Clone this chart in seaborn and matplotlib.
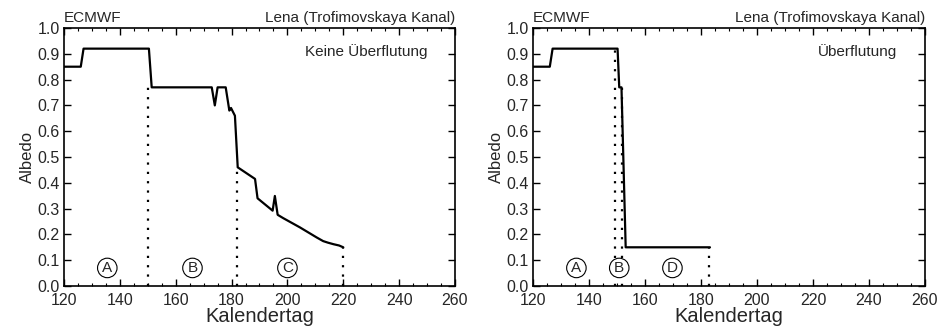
import matplotlib
matplotlib.use("Agg")
import matplotlib.pyplot as plt
from matplotlib.ticker import MultipleLocator, FormatStrFormatter
import seaborn as sns
import pandas as pd

sns.set_theme(style="ticks")
plt.rcParams["font.family"] = ["Liberation Sans", "DejaVu Sans"]

# Albedo, no flooding (Keine Überflutung)
day_dry = [120, 126, 127, 150.4, 151.4, 172.9, 174.0, 175.0, 177.9, 179.2, 179.8,
           181.2, 182.2, 188.4, 189.3, 194.7, 195.5, 196.5, 198.5, 200.5, 202.5,
           204.5, 206.5, 208.5, 210.5, 212.8, 214.5, 216.5, 218.5, 220.0]
alb_dry = [0.85, 0.85, 0.92, 0.92, 0.77, 0.77, 0.70, 0.77, 0.77, 0.68, 0.69,
           0.66, 0.46, 0.415, 0.34, 0.292, 0.349, 0.276, 0.263, 0.251, 0.239,
           0.227, 0.214, 0.201, 0.188, 0.174, 0.168, 0.162, 0.157, 0.15]

# Albedo, flooding (Überflutung)
day_wet = [120, 126, 127, 150.2, 150.8, 151.6, 153.1, 183.2]
alb_wet = [0.85, 0.85, 0.92, 0.92, 0.77, 0.77, 0.15, 0.15]

# Phase boundaries (dotted) and phase labels
bounds_dry = [(150.0, 0.77), (182.0, 0.46), (220.0, 0.15)]
bounds_wet = [(149.3, 0.92), (151.9, 0.77), (183.0, 0.15)]
phases_dry = [("A", 135.5), ("B", 166.0), ("C", 200.0)]
phases_wet = [("A", 135.5), ("B", 150.8), ("D", 169.8)]

panels = [
    (day_dry, alb_dry, bounds_dry, phases_dry, "Keine Überflutung"),
    (day_wet, alb_wet, bounds_wet, phases_wet, "Überflutung"),
]

fig = plt.figure(figsize=(9.41, 3.33), dpi=100)
axes = [fig.add_axes([64 / 941, 47 / 333, 391 / 941, 258 / 333]),
        fig.add_axes([533 / 941, 47 / 333, 392 / 941, 258 / 333])]

for ax, (days, alb, bounds, phases, label) in zip(axes, panels):
    df = pd.DataFrame({"Kalendertag": days, "Albedo": alb})
    sns.lineplot(data=df, x="Kalendertag", y="Albedo", ax=ax, color="black",
                 linewidth=1.6, sort=False)
    for xb, yb in bounds:
        ax.plot([xb, xb], [0, yb], color="black", linestyle=(0, (1, 3.2)),
                linewidth=1.6)
    for letter, xp in phases:
        ax.text(xp, 0.07, letter, ha="center", va="center", fontsize=11,
                bbox=dict(boxstyle="circle,pad=0.18", fc="white", ec="black",
                          lw=0.8))
    ax.text(0.93, 0.91, label, transform=ax.transAxes, ha="right", va="center",
            fontsize=11)
    ax.set_xlim(120, 260)
    ax.set_ylim(0, 1.0)
    ax.xaxis.set_major_locator(MultipleLocator(20))
    ax.xaxis.set_minor_locator(MultipleLocator(5))
    ax.yaxis.set_major_locator(MultipleLocator(0.1))
    ax.yaxis.set_major_formatter(FormatStrFormatter("%.1f"))
    ax.tick_params(which="both", direction="in", top=True, right=True,
                   labelsize=11.5, color="black")
    ax.tick_params(axis="x", which="major", pad=5)
    ax.tick_params(axis="y", which="major", pad=3)
    ax.tick_params(which="major", length=5, width=1.0)
    ax.tick_params(which="minor", length=2.5, width=0.8)
    for sp in ax.spines.values():
        sp.set_linewidth(1.2)
        sp.set_color("black")
    ax.set_xlabel("Kalendertag", fontsize=14.5, labelpad=-1)
    ax.set_ylabel("Albedo", fontsize=12, labelpad=2)
    ax.text(0.0, 1.01, "ECMWF", transform=ax.transAxes, ha="left",
            va="bottom", fontsize=11)
    ax.text(1.0, 1.01, "Lena (Trofimovskaya Kanal)", transform=ax.transAxes,
            ha="right", va="bottom", fontsize=11)

fig.savefig("out.png", dpi=100)
